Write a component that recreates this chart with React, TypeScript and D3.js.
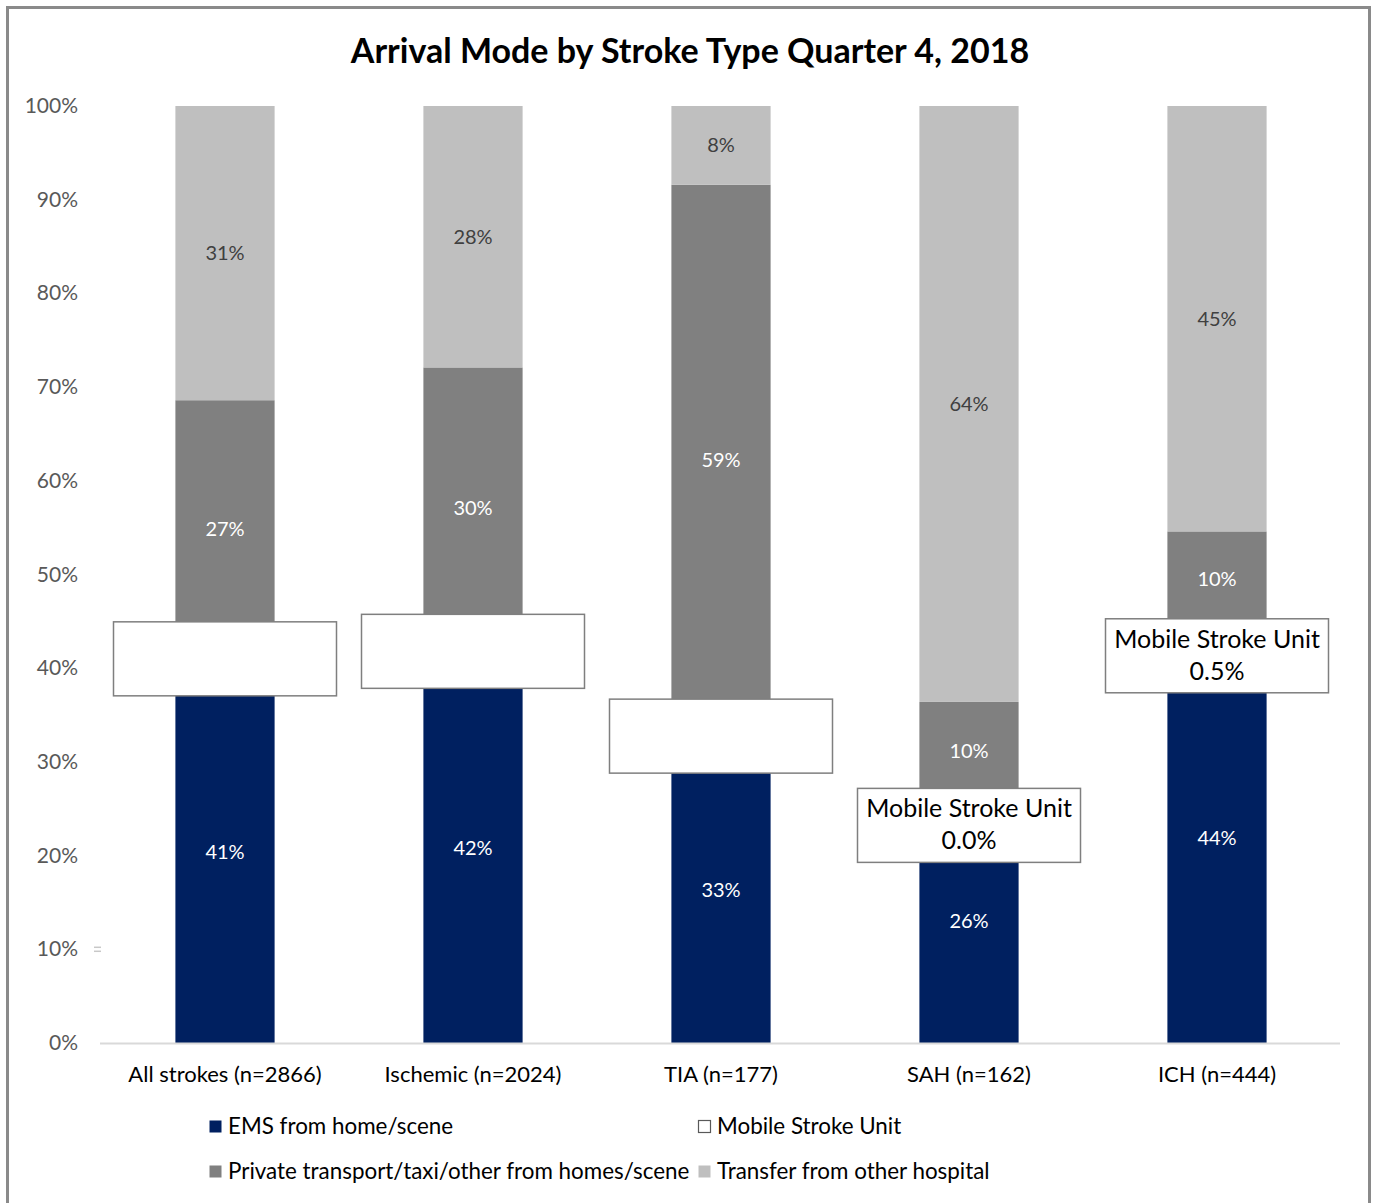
import { useRef, useEffect } from "react";
import * as d3 from "d3";

const categories = ["All strokes (n=2866)", "Ischemic (n=2024)", "TIA (n=177)", "SAH (n=162)", "ICH (n=444)"];
const emsValues = [40.8, 41.6, 32.6, 26.0, 43.8];
const msuValues = [0.4, 0.4, 0.3, 0.0, 0.6];
const privateValues = [27.4, 30.1, 58.7, 10.4, 10.2];
const transferValues = [31.4, 27.9, 8.4, 63.6, 45.4];
const msuLabels = ["", "", "", "Mobile Stroke Unit|0.0%", "Mobile Stroke Unit|0.5%"];
const yTicks = [0, 10, 20, 30, 40, 50, 60, 70, 80, 90, 100];
const seriesNames = [
  "EMS from home/scene",
  "Mobile Stroke Unit",
  "Private transport/taxi/other from homes/scene",
  "Transfer from other hospital",
];

const W = 1373;
const H = 1203;
const FONT = "Lato, 'Open Sans', sans-serif";
const colors = ["#002060", "#ffffff", "#808080", "#bfbfbf"];
const labelColors = ["#ffffff", "#000000", "#ffffff", "#404040"];

export default function App() {
  const svgRef = useRef<SVGSVGElement>(null);

  useEffect(() => {
    if (!svgRef.current) return;
    const svg = d3.select(svgRef.current);
    svg.selectAll("*").remove();
    svg.attr("width", W).attr("height", H).attr("viewBox", `0 0 ${W} ${H}`);

    svg.append("rect").attr("width", W).attr("height", H).attr("fill", "#fff");
    // outer frame
    svg
      .append("rect")
      .attr("x", 7.5)
      .attr("y", 7.5)
      .attr("width", 1362)
      .attr("height", 1230)
      .attr("fill", "none")
      .attr("stroke", "#8a8a8a")
      .attr("stroke-width", 3);

    svg
      .append("text")
      .attr("x", 690)
      .attr("y", 63)
      .attr("text-anchor", "middle")
      .attr("font-family", FONT)
      .attr("font-weight", "bold")
      .attr("font-size", 34)
      .attr("fill", "#000")
      .text("Arrival Mode by Stroke Type Quarter 4, 2018");

    const x = d3.scaleBand().domain(categories).range([101, 1341]).paddingInner(0.6).paddingOuter(0.3);
    const y = d3.scaleLinear().domain([0, 100]).range([1043, 106]);

    // y tick labels
    svg
      .selectAll(".ytick")
      .data(yTicks)
      .enter()
      .append("text")
      .attr("x", 78)
      .attr("y", (d) => y(d) + 7)
      .attr("text-anchor", "end")
      .attr("font-family", FONT)
      .attr("font-size", 21)
      .attr("fill", "#595959")
      .text((d) => `${d}%`);

    // stray tick remnant near 10%
    [-2, 2].forEach((dy) =>
      svg
        .append("line")
        .attr("x1", 94)
        .attr("x2", 101)
        .attr("y1", y(10) + dy)
        .attr("y2", y(10) + dy)
        .attr("stroke", "#c8c8c8")
        .attr("stroke-width", 1.5)
    );

    const rows = categories.map((c, i) => ({
      cat: c,
      vals: [emsValues[i], msuValues[i], privateValues[i], transferValues[i]],
    }));

    rows.forEach((row, i) => {
      let base = 0;
      row.vals.forEach((v, s) => {
        const y0 = base;
        const y1 = base + v;
        base = y1;
        if (s === 1) return;
        svg
          .append("rect")
          .attr("x", x(row.cat)!)
          .attr("y", y(y1))
          .attr("width", x.bandwidth())
          .attr("height", y(y0) - y(y1))
          .attr("fill", colors[s]);
        svg
          .append("text")
          .attr("x", x(row.cat)! + x.bandwidth() / 2)
          .attr("y", (y(y0) + y(y1)) / 2 + 7)
          .attr("text-anchor", "middle")
          .attr("font-family", FONT)
          .attr("font-size", 20)
          .attr("fill", labelColors[s])
          .text(`${Math.round(v)}%`);
      });

      // mobile stroke unit label box
      const mid = emsValues[i] + msuValues[i] / 2;
      const txt = msuLabels[i];
      const nudge = txt ? 26 : 0;
      const cy = y(mid) + nudge;
      const cx = x(row.cat)! + x.bandwidth() / 2;
      const bw = 223;
      const bh = 74;
      svg
        .append("rect")
        .attr("x", cx - bw / 2)
        .attr("y", cy - bh / 2)
        .attr("width", bw)
        .attr("height", bh)
        .attr("fill", "#fff")
        .attr("stroke", "#7f7f7f")
        .attr("stroke-width", 1.5);
      if (txt) {
        txt.split("|").forEach((line, k) => {
          svg
            .append("text")
            .attr("x", cx)
            .attr("y", cy - 8 + k * 32)
            .attr("text-anchor", "middle")
            .attr("font-family", FONT)
            .attr("font-size", 25)
            .attr("fill", "#000")
            .text(line);
        });
      }
    });

    // baseline
    svg
      .append("line")
      .attr("x1", 100)
      .attr("x2", 1340)
      .attr("y1", y(0) + 0.5)
      .attr("y2", y(0) + 0.5)
      .attr("stroke", "#d9d9d9")
      .attr("stroke-width", 2);

    // category labels
    svg
      .selectAll(".xcat")
      .data(categories)
      .enter()
      .append("text")
      .attr("x", (d) => x(d)! + x.bandwidth() / 2)
      .attr("y", 1082)
      .attr("text-anchor", "middle")
      .attr("font-family", FONT)
      .attr("font-size", 22)
      .attr("fill", "#000")
      .text((d) => d);

    // legend
    const legendPos = [
      [209, 1127],
      [698, 1127],
      [209, 1172],
      [698, 1172],
    ];
    seriesNames.forEach((name, s) => {
      const [lx, ly] = legendPos[s];
      svg
        .append("rect")
        .attr("x", lx + 0.5)
        .attr("y", ly - 6.5)
        .attr("width", 12)
        .attr("height", 12)
        .attr("fill", colors[s])
        .attr("stroke", s === 1 ? "#595959" : "none")
        .attr("stroke-width", 1.2);
      svg
        .append("text")
        .attr("x", lx + 19)
        .attr("y", ly + 7)
        .attr("font-family", FONT)
        .attr("font-size", 22.4)
        .attr("fill", "#000")
        .text(name);
    });
  }, []);

  return (
    <div style={{ position: "absolute", left: 0, top: 0 }}>
      <svg ref={svgRef} style={{ display: "block" }} />
    </div>
  );
}
